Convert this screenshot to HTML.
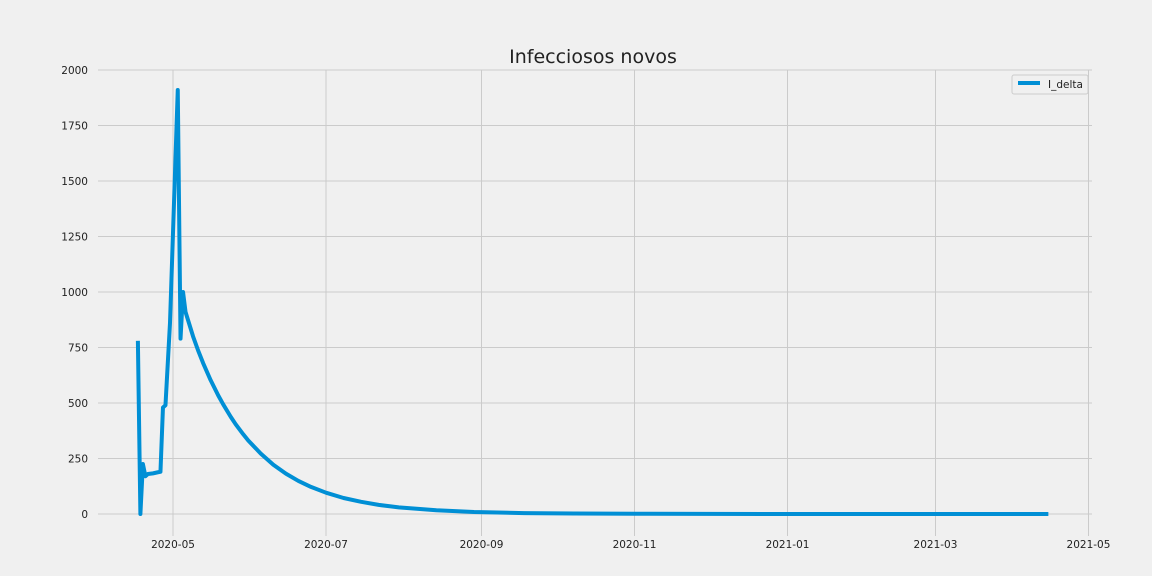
<!DOCTYPE html>
<html><head><meta charset="utf-8"><style>
html,body{margin:0;padding:0;overflow:hidden;background:#f0f0f0;font-family:"DejaVu Sans","Liberation Sans",sans-serif}
svg{display:block}
</style></head><body>
<svg id="c" width="1152" height="576" xmlns="http://www.w3.org/2000/svg" font-family="DejaVu Sans, Liberation Sans, sans-serif">
<rect width="1152" height="576" fill="#f0f0f0"/>
<text x="593" y="63" font-size="19" text-anchor="middle" fill="#222">Infecciosos novos</text>
<g id="grid"></g><g id="ticks"></g><g id="series"></g>
<g>
<rect x="1012" y="75" width="76" height="19" fill="#f0f0f0" stroke="#ccc" rx="2"/>
<line x1="1018" y1="83" x2="1040" y2="83" stroke="#008fd5" stroke-width="4"/>
<text x="1048" y="88" font-size="10.5" fill="#222">I_delta</text>
</g>
</svg>
<script>
// day offsets from 2020-05-01
const days=[-14,-13,-12,-11,-10,-8,-6,-5,-4,-3,-1.2,1.9,3,4,5,8,10,12,15,18,20,23,25,28,30,35,40,45,50,55,61,68,75,82,90,105,120,140,160,190,250,349];
const values=[780,0,225,170,180,183,188,190,480,490,860,1910,790,1000,910,800,737,680,603,535,494,438,404,359,331,272,222,182,149,122,96,72,55,41,30,17,9,4,2,1,0,0];
const yTicks=[0,250,500,750,1000,1250,1500,1750,2000];
const xTickDays=[0,61,123,184,245,304,365];
const xTickLabels=["2020-05","2020-07","2020-09","2020-11","2021-01","2021-03","2021-05"];
const ns="http://www.w3.org/2000/svg";
const X=d=>173+d*2.5082, Y=v=>514-v*0.222;
const L=98,R=1092,T=70,B=536;
function mk(t,a,p){const e=document.createElementNS(ns,t);for(const k in a)e.setAttribute(k,a[k]);document.getElementById(p).appendChild(e);return e;}
yTicks.forEach(v=>{
 const g=mk('line',{x1:L,x2:R,y1:Y(v),y2:Y(v),stroke:'#cbcbcb','stroke-width':1},'grid');
 
 
 const t=mk('text',{x:88,y:Y(v)+4,'font-size':10.5,'text-anchor':'end',fill:'#222'},'ticks');
 t.textContent=v;
 
 
});
xTickDays.forEach((d,i)=>{
 const g=mk('line',{x1:X(d),x2:X(d),y1:T,y2:B,stroke:'#cbcbcb','stroke-width':1},'grid');
 
 
 const t=mk('text',{x:X(d),y:548,'font-size':10.5,'text-anchor':'middle',fill:'#222'},'ticks');
 t.textContent=xTickLabels[i];
 
 
});
const pl=mk('polyline',{points:days.map((d,i)=>X(d)+','+Y(values[i])).join(' '),fill:'none',stroke:'#008fd5','stroke-width':4,'stroke-linejoin':'round'},'series');


</script>
</body></html>
